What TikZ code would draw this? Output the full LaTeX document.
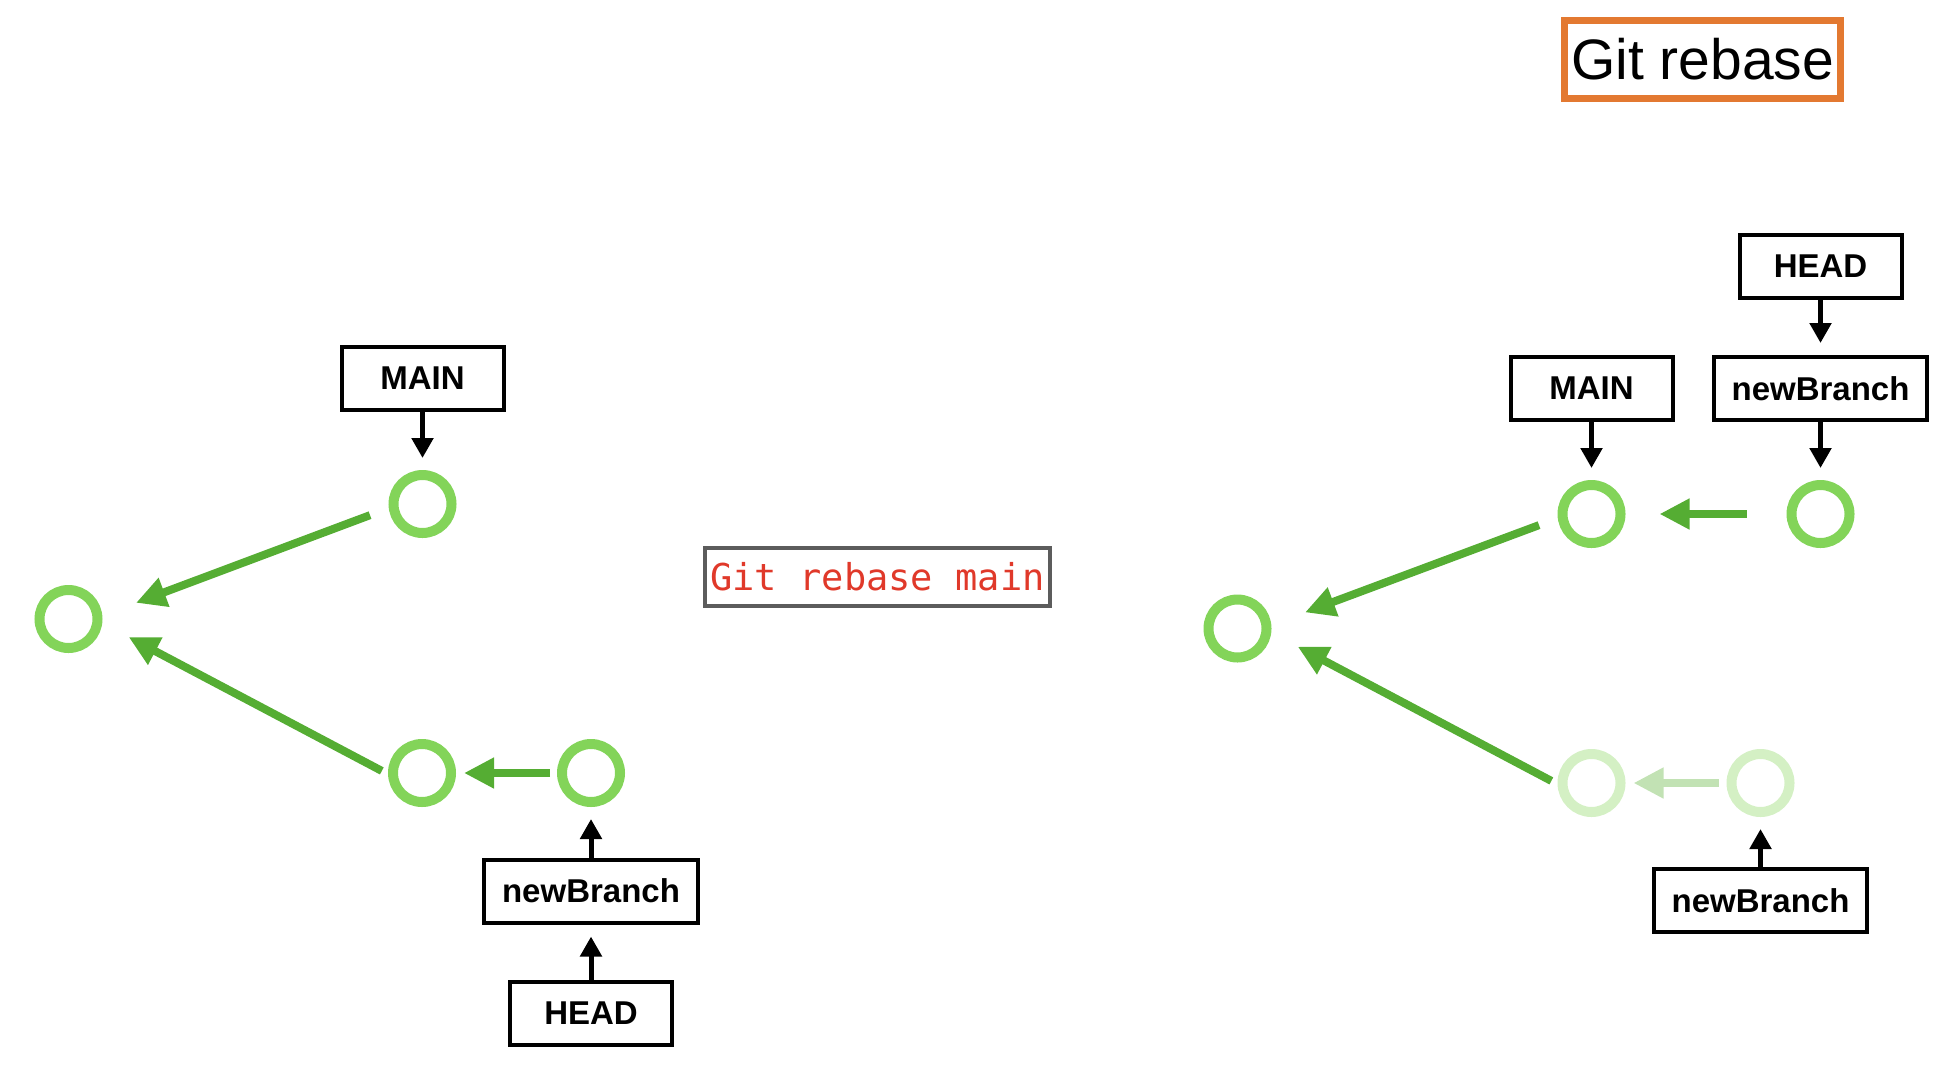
\documentclass[tikz,border=0pt]{standalone}
\usepackage{fontspec}
\setmainfont{Liberation Sans}
\setmonofont{DejaVu Sans Mono}
\usetikzlibrary{arrows.meta}
\definecolor{commitgreen}{HTML}{83D459}
\definecolor{arrowgreen}{HTML}{55AD33}
\definecolor{fadegreen}{HTML}{D4F0C4}
\definecolor{fadearrow}{HTML}{C2E2B4}
\definecolor{titleorange}{HTML}{E37931}
\definecolor{cmdred}{HTML}{E0392A}
\definecolor{cmdgray}{HTML}{5C5C5C}

\begin{document}
\begin{tikzpicture}[x=1pt, y=-1pt,
    commit/.style={circle, draw=commitgreen, line width=10pt, minimum size=58pt, inner sep=0pt},
    oldcommit/.style={commit, draw=fadegreen},
    parent/.style={draw=arrowgreen, line width=8pt, -{Triangle[length=30pt, width=29pt]}},
    oldparent/.style={parent, draw=fadearrow},
    ref/.style={draw, line width=4pt, minimum width=162pt, minimum height=63pt, inner xsep=18pt,
        font=\fontsize{33}{40}\selectfont\bfseries},
    pointer/.style={line width=5pt, -{Triangle[length=20pt, width=21pt]}, shorten >=12pt}]
    \useasboundingbox (0,0) rectangle (1942,1072);

    % Title
    \node[draw=titleorange, line width=7pt, minimum height=78pt, inner xsep=6.5pt,
        font=\fontsize{57}{68}\selectfont] (title) at (1702.5,59.5) {Git rebase};

    % Before: commits
    \node[commit] (l0) at (68.5,619) {};
    \node[commit] (l1) at (422.5,504) {};
    \node[commit] (l2) at (422,773) {};
    \node[commit] (l3) at (591,773) {};
    \draw[parent, shorten <=20pt, shorten >=36pt] (l1.187) -- (l0.6);
    \draw[parent, shorten <=7pt, shorten >=30pt] (l2.182) -- (l0.353);
    \draw[parent, shorten <=7pt, shorten >=8pt] (l3) -- (l2);

    % Before: refs
    \node[ref] (lmain) at (422.5,378.5) {MAIN};
    \node[ref] (lbranch) at (591,891) {newBranch};
    \node[ref] (lhead) at (591,1013.5) {HEAD};
    \draw[pointer] (lmain) -- (l1);
    \draw[pointer] (lbranch) -- (l3);
    \draw[pointer] (lhead) -- (lbranch);

    % Command
    \node[draw=cmdgray, line width=4pt, minimum height=58pt, inner xsep=5.5pt, text=cmdred,
        font=\fontsize{37}{44}\selectfont\ttfamily] (cmd) at (877.5,577) {Git rebase main};

    % After: commits
    \node[commit] (r0) at (1237.5,628.5) {};
    \node[commit] (r1) at (1591.5,514) {};
    \node[commit] (r2) at (1820.5,514) {};
    \node[oldcommit] (r3) at (1591.5,783) {};
    \node[oldcommit] (r4) at (1760.5,783) {};
    \draw[parent, shorten <=20pt, shorten >=36pt] (r1.187) -- (r0.6);
    \draw[parent, shorten <=7pt, shorten >=30pt] (r3.182) -- (r0.353);
    \draw[parent, shorten <=40pt, shorten >=34pt] (r2) -- (r1);
    \draw[oldparent, shorten <=8pt, shorten >=8pt] (r4) -- (r3);

    % After: refs
    \node[ref] (rmain) at (1591.5,388.5) {MAIN};
    \node[ref] (rbranch) at (1820.5,388.5) {newBranch};
    \node[ref] (rhead) at (1820.5,266) {HEAD};
    \node[ref] (roldbranch) at (1760.5,900.5) {newBranch};
    \draw[pointer] (rmain) -- (r1);
    \draw[pointer] (rbranch) -- (r2);
    \draw[pointer] (rhead) -- (rbranch);
    \draw[pointer] (roldbranch) -- (r4);
\end{tikzpicture}
\end{document}
